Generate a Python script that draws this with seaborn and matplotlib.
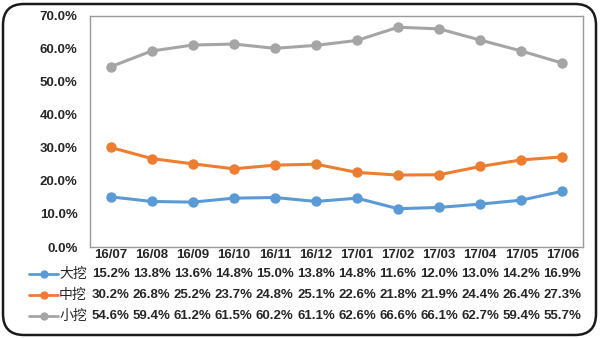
import matplotlib
matplotlib.use("Agg")
import matplotlib.pyplot as plt
import matplotlib.transforms as mtransforms
from matplotlib.patches import FancyBboxPatch
from matplotlib.lines import Line2D
import seaborn as sns
import pandas as pd

months = ["16/07", "16/08", "16/09", "16/10", "16/11", "16/12",
          "17/01", "17/02", "17/03", "17/04", "17/05", "17/06"]
series_names = ["大挖", "中挖", "小挖"]
large = [15.2, 13.8, 13.6, 14.8, 15.0, 13.8, 14.8, 11.6, 12.0, 13.0, 14.2, 16.9]
medium = [30.2, 26.8, 25.2, 23.7, 24.8, 25.1, 22.6, 21.8, 21.9, 24.4, 26.4, 27.3]
small = [54.6, 59.4, 61.2, 61.5, 60.2, 61.1, 62.6, 66.6, 66.1, 62.7, 59.4, 55.7]
y_ticks = [0, 10, 20, 30, 40, 50, 60, 70]

colors = ["#5B9BD5", "#ED7D31", "#A5A5A5"]
all_vals = [large, medium, small]

rows = []
for name, vals in zip(series_names, all_vals):
    for i, (m, v) in enumerate(zip(months, vals)):
        rows.append({"idx": i, "month": m, "series": name, "value": v})
df = pd.DataFrame(rows)

sns.set_theme(style="white")
plt.rcParams['font.family'] = ['Liberation Sans', 'Noto Sans CJK SC', 'DejaVu Sans']

W, H = 600, 338
fig = plt.figure(figsize=(6, 3.38), dpi=100)
fig.patch.set_facecolor("white")

# rounded frame
frame = FancyBboxPatch((3 / W, 3 / H), (W - 7) / W, (H - 7) / H,
                       boxstyle="round,pad=0,rounding_size=0.035",
                       transform=fig.transFigure, facecolor="none",
                       edgecolor="#1a1a1a", linewidth=1.8, mutation_aspect=W / H)
fig.patches.append(frame)

left, right, top, bottom = 90, 583, 16, 247
ax = fig.add_axes([left / W, 1 - bottom / H, (right - left) / W, (bottom - top) / H])

sns.lineplot(data=df, x="idx", y="value", hue="series", palette=colors,
             marker="o", markersize=7.5, markeredgewidth=0, linewidth=2.2,
             ax=ax, legend=False)

ax.set_xlim(-0.5, len(months) - 0.5)
ax.set_ylim(0, 70)
ax.set_yticks(y_ticks)
ax.set_yticklabels([f"{t:.1f}%" for t in y_ticks], fontsize=9.5, fontweight="bold")
ax.set_xticks([])
ax.set_xlabel("")
ax.set_ylabel("")
ax.tick_params(axis="y", length=0, pad=9)
for s in ax.spines.values():
    s.set_color("#9a9a9a")
    s.set_linewidth(1)

trans = mtransforms.blended_transform_factory(ax.transData, fig.transFigure)
# month row
for i, m in enumerate(months):
    ax.text(i, 1 - 255 / H, m, transform=trans, ha="center", va="center",
            fontsize=9.5, fontweight="bold", clip_on=False)

row_y = [274, 295, 316]
for name, vals, c, yp in zip(series_names, all_vals, colors, row_y):
    yf = 1 - yp / H
    for i, v in enumerate(vals):
        ax.text(i, yf, f"{v:.1f}%", transform=trans, ha="center", va="center",
                fontsize=9.5, fontweight="bold", clip_on=False)
    fig.add_artist(Line2D([29 / W, 58 / W], [yf, yf], color=c, linewidth=2,
                          transform=fig.transFigure))
    fig.add_artist(Line2D([43.5 / W], [yf], color=c, marker="o", markersize=6,
                          markeredgewidth=0, transform=fig.transFigure))
    fig.text(59 / W, yf, name, ha="left", va="center", fontsize=10,
             family=['Noto Sans CJK SC', 'DejaVu Sans'])

fig.savefig("out.png", dpi=100, facecolor="white")
